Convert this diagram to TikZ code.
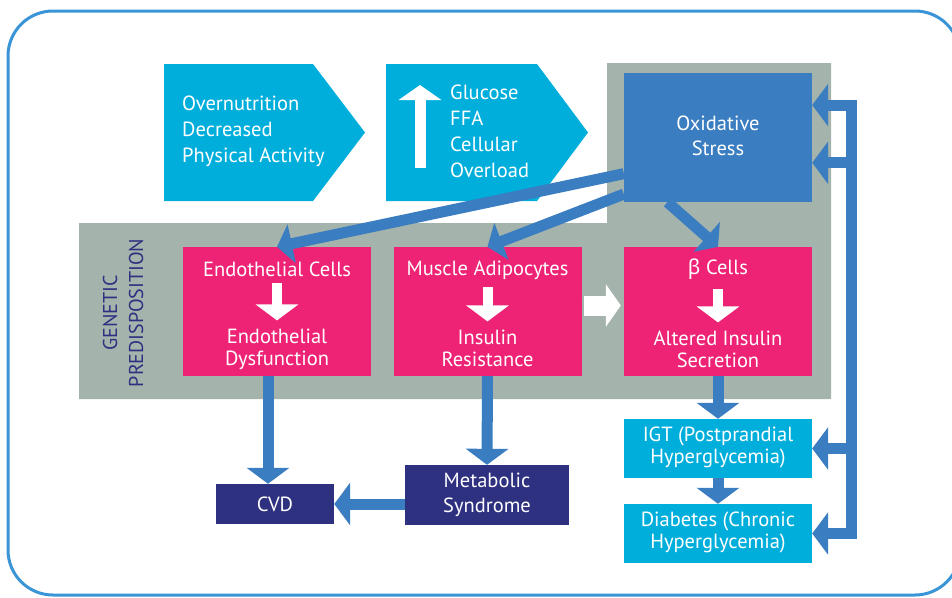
\documentclass[tikz,border=0pt]{standalone}
\usepackage{fontspec}
\setmainfont{PT Sans}
\newfontfamily\greekfont{Noto Sans}
\usepackage{tikz}
\usetikzlibrary{arrows.meta}
\usetikzlibrary{calc}
\usetikzlibrary{positioning}
\definecolor{chevcyan}{HTML}{00AEDB}
\definecolor{arrowblue}{HTML}{3A7DC1}
\definecolor{cellpink}{HTML}{EE2375}
\definecolor{outnavy}{HTML}{2E3080}
\definecolor{genegray}{HTML}{A4B3AC}
\definecolor{framecol}{HTML}{3A95D6}
\tikzstyle{frame} = [
    draw=framecol,
    line width=3pt,
    rounded corners=45pt
]
\tikzstyle{cell} = [
    rectangle,
    fill=cellpink,
    minimum width=188pt,
    minimum height=129pt,
    inner sep=0pt
]
\tikzstyle{outcome} = [
    rectangle,
    fill=outnavy,
    text=white,
    inner sep=0pt,
    font=\fontsize{20.5}{25}\selectfont
]
\tikzstyle{glyc} = [
    rectangle,
    fill=chevcyan,
    text=white,
    minimum width=188pt,
    minimum height=59pt,
    inner sep=0pt,
    font=\fontsize{20.5}{22}\selectfont
]
\tikzstyle{txt}  = [
    text=white,
    inner sep=0pt,
    font=\fontsize{20.5}{22}\selectfont
]
\tikzstyle{tran} = [
    draw=arrowblue,
    line width=11pt,
    -{Triangle[width=42pt,length=16pt]}
]
\tikzstyle{cellarr} = [
    draw=white,
    line width=10pt,
    -{Triangle[width=42pt,length=16pt]}
]
\tikzstyle{widearr} = [
    draw=white,
    line width=20pt,
    -{Triangle[width=42pt,length=15pt]}
]
\newcommand{\twoline}[2]{\begin{tabular}[t]{@{}c@{}}#1\\#2\end{tabular}}

\begin{document}
\begin{tikzpicture}[x=1pt, y=-1pt]

\useasboundingbox (0,0) rectangle (952,597);

\draw[frame] (8,11) rectangle (960,595);

% genetic background
\fill[genegray] (79,223) -- (607,223) -- (607,63) -- (831,63) -- (831,399) -- (79,399) -- cycle;

% risk chevrons
\fill[chevcyan] (164,64) -- (313,64) -- (365,132.5) -- (313,201) -- (164,201) -- cycle;
\fill[chevcyan] (386,64) -- (537,64) -- (588,132.5) -- (537,201) -- (386,201) -- cycle;

\node[txt, anchor=base west, font=\fontsize{20.5}{26}\selectfont] (risk) at (182,110)
{
\begin{tabular}[t]{@{}l@{}}
Overnutrition\\
Decreased\\
Physical Activity
\end{tabular}
};

\node[txt, anchor=base west, font=\fontsize{20.5}{26}\selectfont] (load) at (450,99)
{
\begin{tabular}[t]{@{}l@{}}
Glucose\\
FFA\\
Cellular\\
Overload
\end{tabular}
};

\coordinate (upfoot) at (420,168);
\coordinate (uptop)  at (420,85);
\draw[cellarr, line width=11pt, -{Triangle[width=42pt,length=15pt]}] (upfoot) -- (uptop);

\node[font=\fontsize{20}{26}\selectfont, text=outnavy, inner sep=0pt, rotate=90] (gene) at (125,313)
{\twoline{GENETIC}{PREDISPOSITION}};

% boxes
\node[rectangle, fill=arrowblue, text=white, minimum width=188pt, minimum height=129pt,
      inner sep=0pt, font=\fontsize{20.5}{25}\selectfont] (ox) at (718,137.5)
{\twoline{Oxidative}{Stress}};

\node[cell] (endo) at (277,311.5) {};
\node[cell] (musc) at (487.5,311.5) {};
\node[cell] (beta) at (718,311.5) {};

\node[txt, anchor=base] (endotop) at (277,276) {Endothelial Cells};
\node[txt, anchor=base] (endobot) at (277,343) {\twoline{Endothelial}{Dysfunction}};
\node[txt, anchor=base] (musctop) at (487.5,275) {Muscle Adipocytes};
\node[txt, anchor=base] (muscbot) at (487.5,344) {\twoline{Insulin}{Resistance}};
\node[txt, anchor=base] (betatop) at (718,274) {{\greekfont β} Cells};
\node[txt, anchor=base] (betabot) at (718,345) {\twoline{Altered Insulin}{Secretion}};

\draw[cellarr] ([yshift=-7pt]endotop.south) -- ([yshift=7pt]endobot.north);
\draw[cellarr] ([yshift=-8pt]musctop.south) -- ([yshift=7pt]muscbot.north);
\draw[cellarr] ([yshift=-10pt]betatop.south) -- ([yshift=7pt]betabot.north);
\draw[widearr] ([xshift=2pt,yshift=6pt]musc.east) -- ([xshift=-3pt,yshift=6pt]beta.west);

\node[outcome, minimum width=118pt, minimum height=40pt] (cvd)   at (275,504) {CVD};
\node[outcome, minimum width=164pt, minimum height=60pt] (metab) at (487,495) {\twoline{Metabolic}{Syndrome}};

\node[glyc] (igt)  at (718,448.5) {\twoline{IGT (Postprandial}{Hyperglycemia)}};
\node[glyc] (diab) at (718,533.5) {\twoline{Diabetes (Chronic}{Hyperglycemia)}};

% oxidative stress
\draw[tran, -{Triangle[width=39pt,length=15pt]}] (ox.201) to (endo.north);
\draw[tran, -{Triangle[width=39pt,length=15pt]}] (ox.211) to (musc.north);
\draw[tran, -{Triangle[width=39pt,length=15pt]}] (ox.232) to (beta.north);

% outcomes
\draw[tran] ([xshift=-9pt]endo.south) -- ([xshift=-7pt]cvd.north);
\draw[tran] (musc.south) -- (metab.north);
\draw[tran] (metab.west |- cvd.east) -- (cvd.east);
\draw[tran] (beta.south) -- (igt.north);
\draw[tran] (igt.south) -- (diab.north);

% feedback
\coordinate (fb) at (851,300);
\draw[tran, {Triangle[width=42pt,length=16pt]}-{Triangle[width=42pt,length=16pt]}]
    (ox.19) -- (fb |- ox.19) -- (fb |- diab.east) -- (diab.east);
\draw[tran] (fb |- ox.-15) -- (ox.-15);
\draw[tran] (fb |- igt.east) -- (igt.east);

\end{tikzpicture}
\end{document}
